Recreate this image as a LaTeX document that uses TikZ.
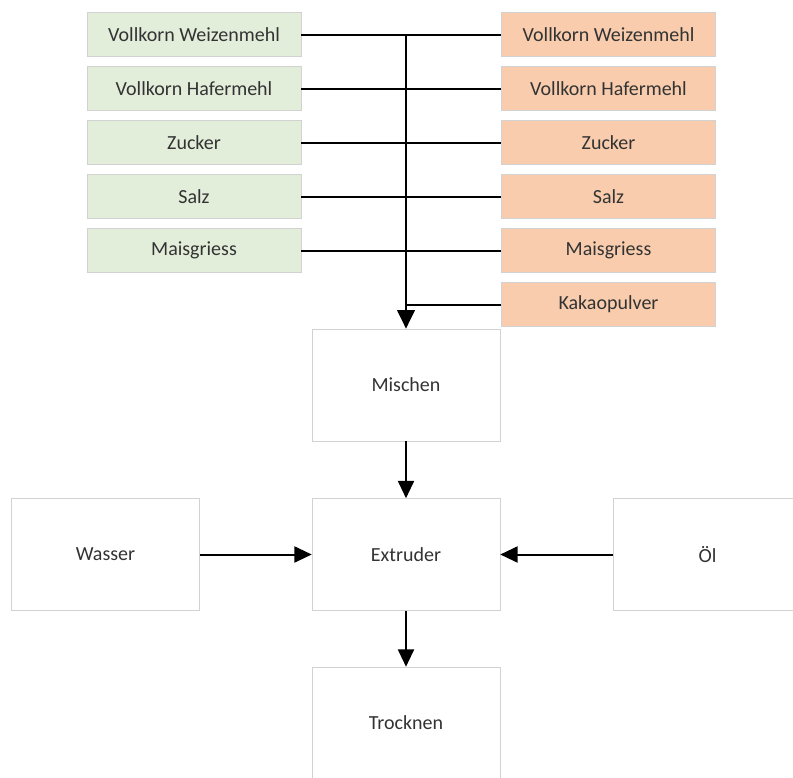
\documentclass[tikz,border=0pt]{standalone}
\usepackage{fontspec}
\setmainfont{Carlito}
\usetikzlibrary{positioning,arrows.meta}

\definecolor{greenbox}{RGB}{226,237,218}
\definecolor{orangebox}{RGB}{248,204,173}
\definecolor{boxline}{RGB}{210,210,210}

\begin{document}
\begin{tikzpicture}[
    x=0.75pt, y=-0.75pt,
    node distance=7.1pt,
    font=\fontsize{15}{18}\selectfont,
    % Node styles
    ingr/.style={draw=boxline, text=black!80, minimum width=160.5pt, minimum height=33pt, inner sep=0pt},
    plainmix/.style={ingr, fill=greenbox},
    chocomix/.style={ingr, fill=orangebox},
    step box/.style={draw=boxline, fill=white, text=black!80, minimum width=141pt, minimum height=84pt},
    line/.style={line width=1.5pt, draw=black},
    arrow/.style={line, -{Triangle[length=13pt,width=12pt]}},
    bus/.style={line width=2.2pt, draw=black, -{Triangle[length=14pt,width=13pt]}},
]
    \useasboundingbox (0,0) rectangle (793,778);

    % Plain recipe
    \node[plainmix] (wz1) at (194,34.5) {Vollkorn Weizenmehl};
    \node[plainmix, below=of wz1] (hm1) {Vollkorn Hafermehl};
    \node[plainmix, below=of hm1] (zk1) {Zucker};
    \node[plainmix, below=of zk1] (sz1) {Salz};
    \node[plainmix, below=of sz1] (mg1) {Maisgriess};

    % Cocoa recipe
    \node[chocomix] (wz2) at (608.5,34.5) {Vollkorn Weizenmehl};
    \node[chocomix, below=of wz2] (hm2) {Vollkorn Hafermehl};
    \node[chocomix, below=of hm2] (zk2) {Zucker};
    \node[chocomix, below=of zk2] (sz2) {Salz};
    \node[chocomix, below=of sz2] (mg2) {Maisgriess};
    \node[chocomix, below=of mg2] (kakao) {Kakaopulver};

    % Process steps
    \node[step box] (mix) at (406,385) {Mischen};
    \node[step box] (ext) at (406,554.5) {Extruder};
    \node[step box] (water) at (105.5,554.5) {Wasser};
    \node[step box] (oil) at (707.5,554.5) {Öl};
    \node[step box] (dry) at (406,723) {Trocknen};

    % Connections
    \draw[line] (wz1) -- (wz2);
    \draw[line] (hm1) -- (hm2);
    \draw[line] (zk1) -- (zk2);
    \draw[line] (sz1) -- (sz2);
    \draw[line] (mg1) -- (mg2);
    \draw[line] (kakao) -- (kakao -| mix);
    \draw[bus] (wz1 -| mix) -- (mix);
    \draw[arrow] (mix) -- (ext);
    \draw[arrow] (water) -- (ext);
    \draw[arrow] (oil) -- (ext);
    \draw[arrow] (ext) -- (dry);

\end{tikzpicture}
\end{document}
